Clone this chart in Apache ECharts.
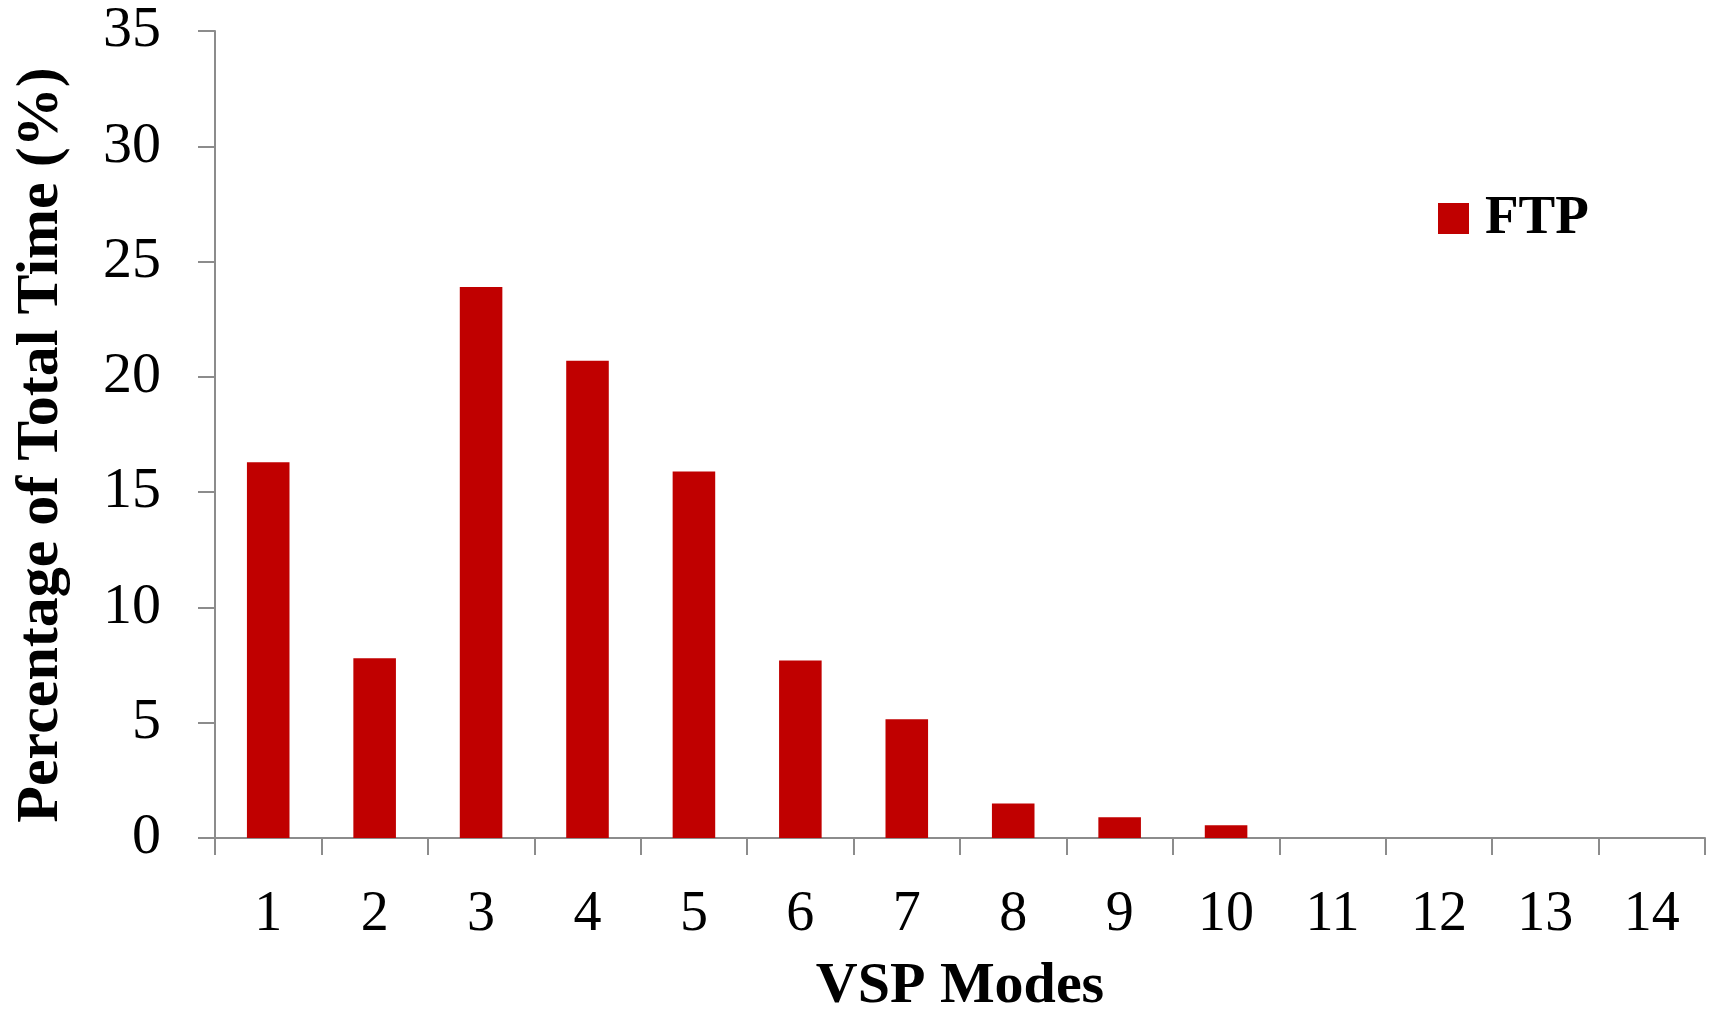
<!DOCTYPE html>
<html>
<head>
<meta charset="utf-8">
<script src="https://cdn.jsdelivr.net/npm/echarts@6/dist/echarts.min.js"></script>
<style>html,body{margin:0;padding:0;background:#fff}#c{width:1713px;height:1009px}</style>
</head>
<body>
<div id="c"></div>
<script>
const categories = ['1','2','3','4','5','6','7','8','9','10','11','12','13','14'];
const ftpValues = [16.3, 7.8, 23.9, 20.7, 15.9, 7.7, 5.15, 1.5, 0.9, 0.55, 0, 0, 0, 0];
const yTicks = { min: 0, max: 35, interval: 5 };
const seriesName = 'FTP';
const xTitle = 'VSP Modes';
const yTitle = 'Percentage of Total Time (%)';

const font = '"Liberation Serif", "DejaVu Serif", serif';
const axisColor = '#8c8c8c';
const chart = echarts.init(document.getElementById('c'), null, { renderer: 'canvas' });
chart.setOption({
  animation: false,
  backgroundColor: '#ffffff',
  grid: { left: 215, right: 8, top: 31, bottom: 171, containLabel: false, outerBoundsMode: 'none' },
  legend: {
    data: [seriesName], left: 1438, top: 191, padding: 0,
    itemWidth: 31, itemHeight: 31, itemGap: 10, icon: 'rect',
    textStyle: { fontFamily: font, fontWeight: 'bold', fontSize: 55, color: '#000', padding: [0,0,0,11] }
  },
  graphic: [{
    type: 'text', rotation: Math.PI / 2,
    x: 41.5, y: 445,
    style: {
      text: yTitle, fontFamily: font, fontWeight: 'bold', fontSize: 60, fill: '#000',
      align: 'center', verticalAlign: 'middle'
    }
  }],
  xAxis: {
    type: 'category', data: categories, boundaryGap: true,
    axisLine: { show: true, lineStyle: { color: axisColor, width: 2 } },
    axisTick: { show: true, length: 17, lineStyle: { color: axisColor, width: 2 } },
    axisLabel: { fontFamily: font, fontSize: 56, color: '#000', margin: 49 },
    name: xTitle, nameLocation: 'middle', nameGap: 120,
    nameTextStyle: { fontFamily: font, fontWeight: 'bold', fontSize: 58, color: '#000' }
  },
  yAxis: {
    type: 'value', min: yTicks.min, max: yTicks.max, interval: yTicks.interval,
    splitLine: { show: false },
    axisLine: { show: true, lineStyle: { color: axisColor, width: 2 } },
    axisTick: { show: true, length: 17, lineStyle: { color: axisColor, width: 2 } },
    axisLabel: { fontFamily: font, fontSize: 58, color: '#000', margin: 54 }
  },
  series: [{
    name: seriesName, type: 'bar', data: ftpValues, barWidth: '40%',
    itemStyle: { color: '#C00000' }
  }]
});
</script>
</body>
</html>
